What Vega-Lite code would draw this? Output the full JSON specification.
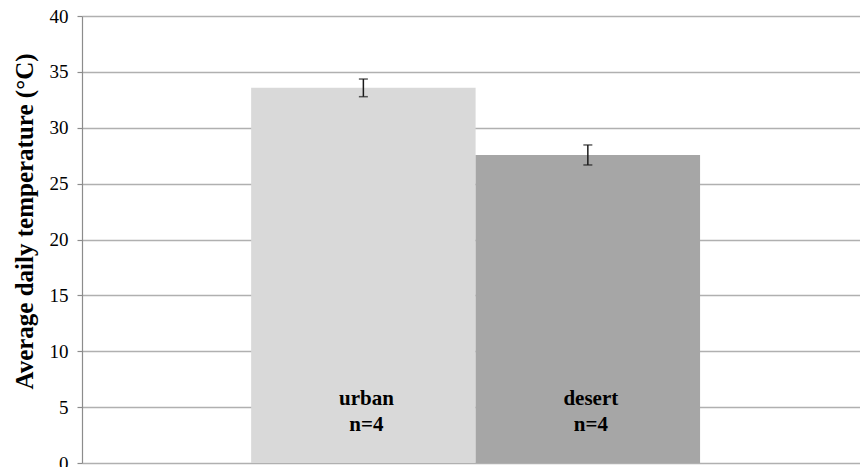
{
  "$schema": "https://vega.github.io/schema/vega-lite/v6.json",
  "width": 778,
  "height": 447,
  "autosize": {"type": "none"},
  "padding": {"left": 82, "top": 16, "right": 0, "bottom": 4},
  "background": "white",
  "config": {
    "view": {"stroke": null},
    "font": "Liberation Serif"
  },
  "data": {
    "values": [
      {"site": "urban", "temp": 33.58, "lo": 32.78, "hi": 34.36, "line1": "urban", "line2": "n=4"},
      {"site": "desert", "temp": 27.56, "lo": 26.67, "hi": 28.46, "line1": "desert", "line2": "n=4"}
    ]
  },
  "encoding": {
    "x": {
      "field": "site",
      "type": "nominal",
      "sort": null,
      "scale": {"domain": ["urban", "desert"], "paddingInner": 0, "paddingOuter": 0.733, "align": 0.514},
      "axis": null
    }
  },
  "layer": [
    {
      "mark": {"type": "bar"},
      "encoding": {
        "y": {
          "field": "temp",
          "type": "quantitative",
          "scale": {"domain": [0, 40], "nice": false},
          "axis": {
            "values": [0, 5, 10, 15, 20, 25, 30, 35, 40],
            "title": "Average daily temperature (°C)",
            "titleFont": "Liberation Serif",
            "titleFontSize": 25,
            "titleFontWeight": "bold",
            "titleColor": "#000000",
            "titlePadding": 12,
            "titleY": 205,
            "labelFont": "Liberation Serif",
            "labelFontSize": 19,
            "labelColor": "#000000",
            "labelPadding": 9,
            "tickSize": 5,
            "tickColor": "#8c8c8c",
            "tickWidth": 1.2,
            "domainColor": "#8c8c8c",
            "domainWidth": 1.2,
            "grid": true,
            "gridColor": "#b0b0b0",
            "gridWidth": 1.5
          }
        },
        "color": {
          "field": "site",
          "type": "nominal",
          "scale": {"domain": ["urban", "desert"], "range": ["#d9d9d9", "#a6a6a6"]},
          "legend": null
        }
      }
    },
    {
      "mark": {"type": "rule", "color": "#1a1a1a", "strokeWidth": 1.5},
      "encoding": {
        "y": {"field": "lo", "type": "quantitative"},
        "y2": {"field": "hi"}
      }
    },
    {
      "mark": {"type": "tick", "color": "#1a1a1a", "size": 9, "thickness": 1.5},
      "encoding": {"y": {"field": "lo", "type": "quantitative"}}
    },
    {
      "mark": {"type": "tick", "color": "#1a1a1a", "size": 9, "thickness": 1.5},
      "encoding": {"y": {"field": "hi", "type": "quantitative"}}
    },
    {
      "mark": {"type": "text", "font": "Liberation Serif", "fontSize": 21, "fontWeight": "bold", "color": "#000000", "baseline": "middle", "dx": 3},
      "encoding": {
        "y": {"datum": 5.73},
        "text": {"field": "line1"}
      }
    },
    {
      "mark": {"type": "text", "font": "Liberation Serif", "fontSize": 21, "fontWeight": "bold", "color": "#000000", "baseline": "middle", "dx": 3},
      "encoding": {
        "y": {"datum": 3.4},
        "text": {"field": "line2"}
      }
    },
    {
      "mark": {"type": "rule", "color": "#8c8c8c", "strokeWidth": 1.5},
      "encoding": {"y": {"datum": 0}}
    }
  ]
}
